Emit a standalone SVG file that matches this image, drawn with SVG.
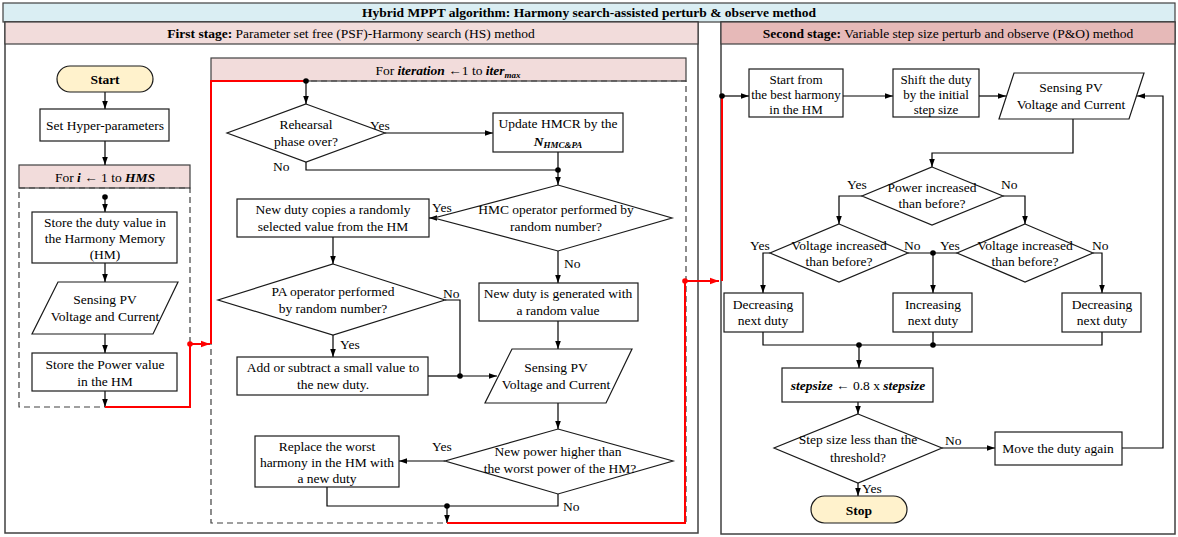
<svg xmlns="http://www.w3.org/2000/svg" width="1178" height="537" viewBox="0 0 1178 537" font-family="'Liberation Serif', 'Times New Roman', serif">
<style>
text{font-family:"Liberation Serif","Times New Roman",serif;font-size:13.5px;fill:#000;text-anchor:middle}
.lab{text-anchor:start}
.sm{font-size:13px}
.b{font-weight:bold}
.bi{font-weight:bold;font-style:italic}
.nd{fill:#fff;stroke:#1a1a1a;stroke-width:1.2}
.term{fill:#fff2cc;stroke:#1a1a1a;stroke-width:1.2}
.panel{fill:#fff;stroke:#404040;stroke-width:1.5}
.dash{fill:none;stroke:#404040;stroke-width:1.2;stroke-dasharray:6,4}
.hdr1{fill:#f2dcdb;stroke:#404040;stroke-width:1.2}
.hdr2{fill:#e6b9b8;stroke:#404040;stroke-width:1.2}
.ln{fill:none;stroke:#000;stroke-width:1.2}
.arr{fill:none;stroke:#000;stroke-width:1.2;marker-end:url(#ab)}
.red{fill:none;stroke:#ff0000;stroke-width:2}
.redarr{fill:none;stroke:#ff0000;stroke-width:2;marker-end:url(#ar)}
.dot{fill:#000}
.rdot{fill:#ff0000}
</style>
<defs>
<marker id="ab" viewBox="0 0 10 10" refX="10" refY="5" markerWidth="8" markerHeight="8" markerUnits="userSpaceOnUse" orient="auto"><path d="M0,1.5 L10,5 L0,8.5 z" fill="#000"/></marker>
<marker id="ar" viewBox="0 0 10 10" refX="10" refY="5" markerWidth="9" markerHeight="9" markerUnits="userSpaceOnUse" orient="auto"><path d="M0,1.5 L10,5 L0,8.5 z" fill="#ff0000"/></marker>
</defs>

<g id="frame">
<rect x="3" y="3" width="1172" height="19" fill="#daeef3" stroke="#404040" stroke-width="1.2"/>
<text x="589" y="17" class="b">Hybrid MPPT algorithm: Harmony search-assisted perturb &amp; observe method</text>
<rect class="panel" x="5" y="22" width="693" height="511"/>
<rect class="hdr1" x="5" y="22" width="693" height="22"/>
<text x="351" y="38"><tspan class="b">First stage:</tspan> Parameter set free (PSF)-Harmony search (HS) method</text>
<rect class="panel" x="721" y="22" width="454" height="512"/>
<rect class="hdr2" x="721" y="22" width="454" height="22"/>
<text x="948" y="38"><tspan class="b">Second stage:</tspan> Variable step size perturb and observe (P&amp;O) method</text>
</g>

<g id="loop-hms">
<rect class="hdr1" x="19" y="165" width="171" height="23"/>
<text x="105" y="182">For <tspan class="bi">i</tspan> ← 1 to <tspan class="bi">HMS</tspan></text>
<rect class="dash" x="19" y="188" width="171" height="219"/>
</g>
<g id="loop-iter">
<rect class="hdr1" x="211" y="58" width="475" height="23"/>
<text x="448" y="75">For <tspan class="bi">iteration</tspan>  ←1 to <tspan class="bi">iter</tspan><tspan class="bi" font-size="9" dy="3">max</tspan></text>
<rect class="dash" x="211" y="81" width="475" height="442"/>
</g>

<g id="connectors">
<path class="arr" d="M105,92 V109"/>
<path class="arr" d="M105,141 V165"/>
<path class="arr" d="M105,197 V212"/>
<path class="arr" d="M105,263 V282"/>
<path class="arr" d="M105,334 V353"/>
<path class="arr" d="M105,391 V407"/>
<path class="red" d="M105,407 H190 V344"/>
<path class="redarr" d="M190,344 H210"/>
<path class="red" d="M211,344 V81 H306"/>
<path class="arr" d="M306,81 V104"/>
<path class="arr" d="M385,133 H493"/>
<path class="ln" d="M306,162 V170 H558"/>
<path class="ln" d="M558,152 V170"/>
<path class="arr" d="M558,170 V185"/>
<path class="arr" d="M434,218 H429"/>
<path class="arr" d="M333,237 V264"/>
<path class="ln" d="M445,300 H460 V376"/>
<path class="arr" d="M333,335 V357"/>
<path class="ln" d="M428,376 H460"/>
<path class="arr" d="M460,376 H497"/>
<path class="arr" d="M558,251 V283"/>
<path class="arr" d="M558,321 V349"/>
<path class="arr" d="M558,403 V429"/>
<path class="arr" d="M445,461 H399"/>
<path class="ln" d="M327,487 V506 H558 V494"/>
<path class="arr" d="M447,506 V523"/>
<path class="red" d="M447,523 H685 V281"/>
<path class="redarr" d="M685,281 H719"/>
<path class="red" d="M722,281 V96"/>
<path class="arr" d="M722,96 H749"/>
<path class="arr" d="M843,96 H893"/>
<path class="arr" d="M979,96 H1006"/>
<path class="arr" d="M1122,448 H1163 V96 H1137"/>
<path class="arr" d="M1073,119 V153 H932 V167"/>
<path class="arr" d="M862,196 H839 V224"/>
<path class="arr" d="M1003,196 H1025 V224"/>
<path class="arr" d="M770,253 H763 V293"/>
<path class="ln" d="M908,253 H957"/>
<path class="arr" d="M933,253 V293"/>
<path class="arr" d="M1093,253 H1102 V293"/>
<path class="ln" d="M763,332 V345 H1102 V332"/>
<path class="ln" d="M933,332 V345"/>
<path class="arr" d="M859,345 V368"/>
<path class="arr" d="M858,402 V414"/>
<path class="arr" d="M942,448 H995"/>
<path class="arr" d="M858,483 V496"/>
<circle class="dot" cx="105" cy="197" r="2.8"/>
<circle class="rdot" cx="190" cy="344" r="2.8"/>
<circle class="dot" cx="306" cy="81" r="2.8"/>
<circle class="dot" cx="558" cy="170" r="2.8"/>
<circle class="dot" cx="460" cy="376" r="2.8"/>
<circle class="dot" cx="447" cy="506" r="2.8"/>
<circle class="rdot" cx="685" cy="281" r="2.8"/>
<circle class="dot" cx="722" cy="96" r="2.8"/>
<circle class="dot" cx="933" cy="253" r="2.8"/>
<circle class="dot" cx="859" cy="345" r="2.8"/>
<circle class="dot" cx="933" cy="345" r="2.8"/>
<text class="lab" x="370" y="130">Yes</text>
<text class="lab" x="273" y="171">No</text>
<text class="lab" x="432" y="212">Yes</text>
<text class="lab" x="564" y="268">No</text>
<text class="lab" x="443" y="298">No</text>
<text class="lab" x="340" y="349">Yes</text>
<text class="lab" x="432" y="451">Yes</text>
<text class="lab" x="563" y="511">No</text>
<text class="lab" x="847" y="189">Yes</text>
<text class="lab" x="1001" y="189">No</text>
<text class="lab" x="750" y="250">Yes</text>
<text class="lab" x="904" y="250">No</text>
<text class="lab" x="940" y="250">Yes</text>
<text class="lab" x="1092" y="250">No</text>
<text class="lab" x="945" y="445">No</text>
<text class="lab" x="862" y="493">Yes</text>
</g>

<g id="start">
<rect class="term" x="57" y="66" width="96" height="26" rx="13"/>
<text x="105" y="84" class="b">Start</text>
</g>
<g id="set-hyper">
<rect class="nd" x="40" y="109" width="129" height="32"/>
<text x="105" y="130">Set Hyper-parameters</text>
</g>
<g id="store-duty">
<rect class="nd" x="32" y="212" width="145" height="51"/>
<text x="105" y="227">Store the duty value in</text>
<text x="105" y="243">the Harmony Memory</text>
<text x="105" y="259">(HM)</text>
</g>
<g id="sense1">
<polygon class="nd" points="58,282 178,282 153,334 32,334"/>
<text x="105" y="304">Sensing PV</text>
<text x="105" y="321">Voltage and Current</text>
</g>
<g id="store-power">
<rect class="nd" x="32" y="353" width="145" height="38"/>
<text x="105" y="369">Store the Power value</text>
<text x="105" y="386">in the HM</text>
</g>

<g id="rehearsal">
<polygon class="nd" points="306,104 385,133 306,162 227,133"/>
<text x="306" y="129">Rehearsal</text>
<text x="306" y="146">phase over?</text>
</g>
<g id="update-hmcr">
<rect class="nd" x="493" y="113" width="130" height="39"/>
<text x="558" y="128">Update HMCR by the</text>
<text x="558" y="146"><tspan class="bi">N</tspan><tspan class="bi" font-size="9" dy="2">HMC&amp;PA</tspan></text>
</g>
<g id="hmc">
<polygon class="nd" points="558,185 672,218 558,251 434,218"/>
<text x="556" y="214">HMC operator performed by</text>
<text x="556" y="231">random number?</text>
</g>
<g id="copy-hm">
<rect class="nd" x="237" y="199" width="192" height="38"/>
<text x="333" y="214">New duty copies a randomly</text>
<text x="333" y="231">selected value from the HM</text>
</g>
<g id="pa">
<polygon class="nd" points="333,264 445,300 333,335 218,300"/>
<text x="333" y="296">PA operator performed</text>
<text x="333" y="313">by random number?</text>
</g>
<g id="add-sub">
<rect class="nd" x="237" y="357" width="191" height="38"/>
<text x="333" y="372">Add or subtract a small value to</text>
<text x="333" y="389">the new duty.</text>
</g>
<g id="random-duty">
<rect class="nd" x="479" y="283" width="159" height="38"/>
<text x="558" y="298">New duty is generated with</text>
<text x="558" y="315">a random value</text>
</g>
<g id="sense2">
<polygon class="nd" points="512,349 632,349 606,403 485,403"/>
<text x="556" y="372">Sensing PV</text>
<text x="556" y="389">Voltage and Current</text>
</g>
<g id="new-power">
<polygon class="nd" points="558,429 673,461 558,494 445,461"/>
<text x="558" y="456">New power higher than</text>
<text x="560" y="473">the worst power of the HM?</text>
</g>
<g id="replace">
<rect class="nd" x="255" y="436" width="144" height="51"/>
<text x="327" y="451">Replace the worst</text>
<text x="327" y="467">harmony in the HM with</text>
<text x="327" y="483">a new duty</text>
</g>

<g id="start-best">
<rect class="nd" x="749" y="69" width="94" height="48"/>
<text class="sm" x="796" y="84">Start from</text>
<text class="sm" x="796" y="99">the best harmony</text>
<text class="sm" x="796" y="114">in the HM</text>
</g>
<g id="shift">
<rect class="nd" x="893" y="69" width="86" height="48"/>
<text class="sm" x="936" y="84">Shift the duty</text>
<text class="sm" x="936" y="99">by the initial</text>
<text class="sm" x="936" y="114">step size</text>
</g>
<g id="sense3">
<polygon class="nd" points="1014,73 1144,73 1129,119 999,119"/>
<text x="1071" y="92">Sensing PV</text>
<text x="1071" y="109">Voltage and Current</text>
</g>
<g id="power-inc">
<polygon class="nd" points="932,167 1003,196 932,225 862,196"/>
<text x="932" y="192">Power increased</text>
<text x="932" y="208">than before?</text>
</g>
<g id="volt-inc-1">
<polygon class="nd" points="839,224 908,253 839,282 770,253"/>
<text x="839" y="250">Voltage increased</text>
<text x="839" y="266">than before?</text>
</g>
<g id="volt-inc-2">
<polygon class="nd" points="1025,224 1093,253 1025,282 957,253"/>
<text x="1025" y="250">Voltage increased</text>
<text x="1025" y="266">than before?</text>
</g>
<g id="dec-1">
<rect class="nd" x="724" y="293" width="79" height="39"/>
<text x="763" y="309">Decreasing</text>
<text x="763" y="325">next duty</text>
</g>
<g id="inc">
<rect class="nd" x="893" y="293" width="79" height="39"/>
<text x="933" y="309">Increasing</text>
<text x="933" y="325">next duty</text>
</g>
<g id="dec-2">
<rect class="nd" x="1062" y="293" width="79" height="39"/>
<text x="1102" y="309">Decreasing</text>
<text x="1102" y="325">next duty</text>
</g>
<g id="stepsize">
<rect class="nd" x="782" y="368" width="151" height="34"/>
<text x="858" y="390"><tspan class="bi">stepsize</tspan> ← 0.8 x <tspan class="bi">stepsize</tspan></text>
</g>
<g id="threshold">
<polygon class="nd" points="858,414 942,448 858,483 774,448"/>
<text x="858" y="444">Step size less than the</text>
<text x="858" y="462">threshold?</text>
</g>
<g id="move">
<rect class="nd" x="995" y="432" width="127" height="33"/>
<text x="1058" y="453">Move the duty again</text>
</g>
<g id="stop">
<rect class="term" x="811" y="496" width="96" height="27" rx="13.5"/>
<text x="859" y="515" class="b">Stop</text>
</g>
</svg>
